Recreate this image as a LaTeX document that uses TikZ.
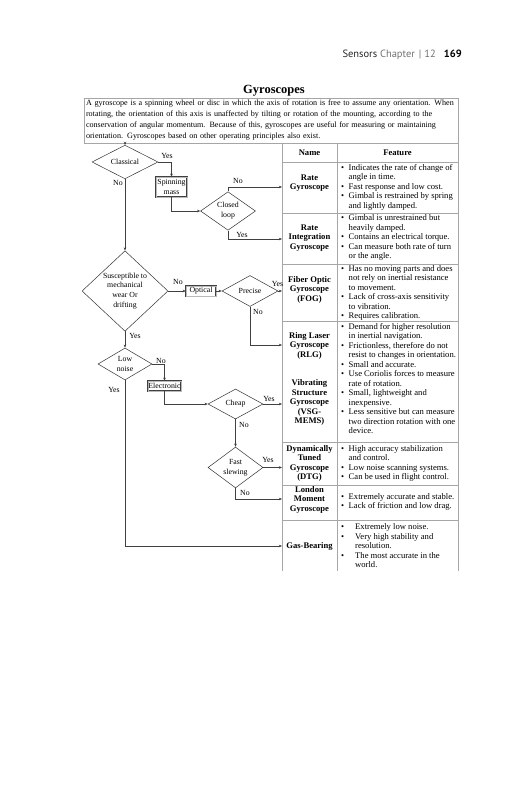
\documentclass[tikz,border=0pt]{standalone}
\usepackage{fontspec}
\setmainfont{Liberation Serif}
\newfontfamily\hdrfont{PT Sans}
\usetikzlibrary{shapes.geometric,arrows.meta}
\newcommand\tbul{\llap{\textbullet\hspace{4.5pt}}}
\newcommand\gbul{\llap{\textbullet\hspace{11pt}}}
\begin{document}
\begin{tikzpicture}[x=1pt,y=-1pt,
  ln/.style={draw=black!75, line width=0.5pt},
  arr/.style={ln, -{Stealth[length=3.2pt,width=2.6pt]}},
  dec/.style={diamond, draw=black!80, line width=0.5pt, inner sep=0pt, align=center, font=\fontsize{7.8}{9.8}\selectfont},
  pbox/.style={rectangle, draw=black!75, line width=0.35pt, double=gray!55, double distance=0.35pt, inner sep=0pt, align=center, font=\fontsize{7.8}{9.8}\selectfont},
  lbl/.style={font=\fontsize{7.8}{9}\selectfont, inner sep=0pt},
  tl/.style={draw=gray!70, line width=0.5pt},
  nm/.style={font=\bfseries\fontsize{8.6}{9.5}\selectfont, align=center, inner sep=0pt},
  ft/.style={font=\fontsize{8.6}{9.5}\selectfont, align=left, anchor=west, inner sep=0pt},
]
\fill[white] (0,0) rectangle (531,800);
\useasboundingbox (0,0) rectangle (531,800);

% header
\node[anchor=east, inner sep=0pt, font=\hdrfont\fontsize{10.5}{12}\selectfont] (hdr) at (462,55)
  {\textcolor{black!85}{Sensors} \textcolor{black!55}{Chapter\hspace{4pt}|\hspace{3pt}12}\hspace{8pt}\textbf{169}};

% title
\node[font=\bfseries\fontsize{12.5}{14}\selectfont, inner sep=0pt] (title) at (274,91) {Gyroscopes};

% paragraph box
\node[draw=gray!70, line width=0.5pt, minimum width=374pt, minimum height=45pt, inner sep=0pt,
      font=\fontsize{8.1}{11}\selectfont, align=left, text width=370pt] (para) at (271,120.5)
 {\mbox{A gyroscope is a spinning wheel or disc in which the axis of rotation is free to assume any orientation. When}\\
  \mbox{rotating, the orientation of this axis is unaffected by tilting or rotation of the mounting, according to the}\\
  \mbox{conservation of angular momentum. Because of this, gyroscopes are useful for measuring or maintaining}\\
  \mbox{orientation. Gyroscopes based on other operating principles also exist.}};

% table grid
\draw[tl] (282,143) -- (282,571);
\draw[tl] (337,143) -- (337,571);
\draw[tl] (458,143) -- (458,571);
\foreach \yy in {162,213,264,321,442,485,520} \draw[tl] (282,\yy) -- (458,\yy);

\node[nm] (hName) at (309.5,153) {Name};
\node[nm] (hFeat) at (397.5,153) {Feature};

% name cells
\node[nm] (nRG) at (309.5,183) {Rate\\Gyroscope};
\node[nm] (nRI) at (309.5,238) {Rate\\Integration\\Gyroscope};
\node[nm] (nFOG) at (309.5,289.5) {Fiber Optic\\Gyroscope\\(FOG)};
\node[nm] (nRLG) at (309.5,345.5) {Ring Laser\\Gyroscope\\(RLG)};
\node[nm] (nVSG) at (309.5,402.5) {Vibrating\\Structure\\Gyroscope\\(VSG-\\MEMS)};
\node[nm] (nDTG) at (309.5,463.25) {Dynamically\\Tuned\\Gyroscope\\(DTG)};
\node[nm] (nLM) at (309.5,499.5) {London\\Moment\\Gyroscope};
\node[nm] (nGB) at (309.5,546) {Gas-Bearing};

% feature cells
\node[ft] (fRG) at (348.5,187) {\tbul Indicates the rate of change of\\angle in time.\\\tbul Fast response and low cost.\\\tbul Gimbal is restrained by spring\\and lightly damped.};
\node[ft] (fRI) at (348.5,237.5) {\tbul Gimbal is unrestrained but\\heavily damped.\\\tbul Contains an electrical torque.\\\tbul Can measure both rate of turn\\or the angle.};
\node[ft] (fFOG) at (348.5,292.75) {\tbul Has no moving parts and does\\not rely on inertial resistance\\to movement.\\\tbul Lack of cross-axis sensitivity\\to vibration.\\\tbul Requires calibration.};
\node[ft] (fRLG) at (348.5,345.5) {\tbul Demand for higher resolution\\in inertial navigation.\\\tbul Frictionless, therefore do not\\resist to changes in orientation.\\\tbul Small and accurate.};
\node[ft] (fVSG) at (348.5,402.5) {\tbul Use Coriolis forces to measure\\rate of rotation.\\\tbul Small, lightweight and\\inexpensive.\\\tbul Less sensitive but can measure\\two direction rotation with one\\device.};
\node[ft] (fDTG) at (348.5,463.25) {\tbul High accuracy stabilization\\and control.\\\tbul Low noise scanning systems.\\\tbul Can be used in flight control.};
\node[ft] (fLM) at (348.5,501.75) {\tbul Extremely accurate and stable.\\\tbul Lack of friction and low drag.};
\node[ft] (fGB) at (355,546) {\gbul Extremely low noise.\\\gbul Very high stability and\\resolution.\\\gbul The most accurate in the\\world.};

% arrow targets at the table edge
\coordinate (tRG) at (282,187);
\coordinate (tRI) at (282,239);
\coordinate (tFOG) at (282,291);
\coordinate (tRLG) at (282,345);
\coordinate (tVSG) at (282,404);
\coordinate (tDTG) at (282,467.5);
\coordinate (tLM) at (282,499);
\coordinate (tGB) at (282,546);

% flowchart nodes
\node[dec, minimum width=66pt, minimum height=28pt] (cls) at (125,162) {Classical};
\node[pbox, minimum width=31pt, minimum height=20pt] (spin) at (171.5,187) {Spinning\\mass};
\node[dec, minimum width=55pt, minimum height=36pt] (cl) at (228,211) {Closed\\loop};
\node[dec, minimum width=86pt, minimum height=78pt] (sus) at (125,291) {Susceptible to\\mechanical\\wear Or\\drifting};
\node[pbox, minimum width=30pt, minimum height=10.5pt] (opt) at (201,291) {Optical};
\node[dec, minimum width=56pt, minimum height=31pt] (pre) at (250,291) {Precise};
\node[dec, minimum width=54pt, minimum height=32pt] (low) at (125,364) {Low\\noise};
\node[pbox, minimum width=33pt, minimum height=10pt] (elec) at (164.5,386) {Electronic};
\node[dec, minimum width=55pt, minimum height=30pt] (chp) at (235.5,404) {Cheap};
\node[dec, minimum width=55pt, minimum height=37pt] (fst) at (235.5,467.5) {Fast\\slewing};

% connectors
\draw[arr] (para.south -| cls.north) -- (cls.north);
\draw[arr] (cls.east) -| (spin.north);
\draw[arr] (spin.south) |- (cl.west);
\draw[arr] (cl.north) |- (tRG);
\draw[arr] (cl.south) |- (tRI);
\draw[arr] (cls.south) -- (sus.north);
\draw[arr] (sus.east) -- (opt.west);
\draw[arr] (opt.east) -- (pre.west);
\draw[arr] (pre.east) -- (tFOG);
\draw[arr] (pre.south) |- (tRLG);
\draw[arr] (sus.south) -- (low.north);
\draw[arr] (low.east) -| (elec.north);
\draw[arr] (elec.south) |- (chp.west);
\draw[arr] (chp.east) -- (tVSG);
\draw[arr] (chp.south) -- (fst.north);
\draw[arr] (fst.east) -- (tDTG);
\draw[arr] (fst.south) |- (tLM);
\draw[arr] (low.south) |- (tGB);

% branch labels
\node[lbl] (l1) at (167,156) {Yes};
\node[lbl] (l2) at (118,183) {No};
\node[lbl] (l3) at (238,181) {No};
\node[lbl] (l4) at (242,235) {Yes};
\node[lbl] (l5) at (178,282) {No};
\node[lbl] (l6) at (277.5,284) {Yes};
\node[lbl] (l7) at (258,312) {No};
\node[lbl] (l8) at (135,336) {Yes};
\node[lbl] (l9) at (161,361) {No};
\node[lbl] (l10) at (114,390) {Yes};
\node[lbl] (l11) at (269,399) {Yes};
\node[lbl] (l12) at (244,425) {No};
\node[lbl] (l13) at (268,460) {Yes};
\node[lbl] (l14) at (245,493) {No};
\end{tikzpicture}
\end{document}
